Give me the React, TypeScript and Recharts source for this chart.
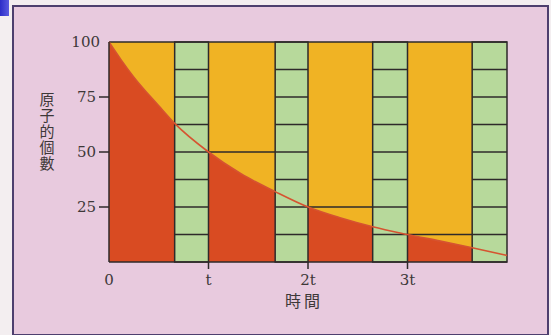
import React from 'react';
import {
  ComposedChart,
  Area,
  Line,
  XAxis,
  YAxis,
  CartesianGrid,
  ReferenceArea,
  ReferenceLine,
} from 'recharts';

// Decay curve (x in half-lives)
const timeUnits = [0, 0.12, 0.25, 0.5, 0.66, 1, 1.33, 1.67, 2, 2.33, 2.65, 3, 3.33, 3.65, 4];
const atomCounts = [100, 92, 84, 71, 63, 50, 40, 32, 25, 20, 16, 12.5, 9.5, 6.5, 3];

// Green striped columns before each half-life mark
const stripStart = [0.66, 1.67, 2.65, 3.65];
const stripEnd = [1, 2, 3, 4];
const stripRows = [12.5, 25, 37.5, 50, 62.5, 75, 87.5];

// Level lines drawn over the yellow part after each half-life
const halfLevels = [50, 25, 12.5];

const xTicks = [0, 1, 2, 3];
const xTickLabels = ['0', 't', '2t', '3t'];
const yTicks = [25, 50, 75, 100];

const yTitle = '原子的個數';
const xTitle = '時間';

const RED = '#d94b22';
const YELLOW = '#f0b324';
const GREEN = '#b7d99b';
const INK = '#2e2a2a';
const TEXT = '#3d3838';
const SERIF = '"DejaVu Serif", serif';
const CJK = '"Noto Sans CJK TC", sans-serif';

const data = timeUnits.map((t, i) => ({ t, n: atomCounts[i] }));

function YTick({ x, y, payload }: any) {
  const v = payload.value;
  return (
    <g>
      {v !== 100 && <line x1={x - 10} y1={y} x2={x} y2={y} stroke={INK} strokeWidth={1.5} />}
      <text
        x={v === 100 ? x - 9 : x - 13}
        y={y}
        dy="0.36em"
        textAnchor="end"
        fill={TEXT}
        fontSize={15}
        fontFamily={SERIF}
      >
        {v}
      </text>
    </g>
  );
}

function XTick({ x, y, payload }: any) {
  const v = payload.value;
  return (
    <g>
      {v > 0 && <line x1={x} y1={y} x2={x} y2={y + 7} stroke={INK} strokeWidth={1.5} />}
      <text x={x} y={y + 23} textAnchor="middle" fill={TEXT} fontSize={15} fontFamily={SERIF}>
        {xTickLabels[xTicks.indexOf(v)]}
      </text>
    </g>
  );
}

function YTitle({ viewBox }: any) {
  return (
    <text
      x={viewBox.x - 2}
      y={92}
      fill={TEXT}
      fontSize={15}
      fontFamily={CJK}
      style={{ writingMode: 'vertical-rl' }}
      letterSpacing={1}
    >
      {yTitle}
    </text>
  );
}

function XTitle({ viewBox }: any) {
  return (
    <text
      x={viewBox.x + viewBox.width / 2 - 4}
      y={viewBox.y + 45}
      textAnchor="middle"
      fill={TEXT}
      fontSize={16}
      fontFamily={CJK}
      letterSpacing={3}
    >
      {xTitle}
    </text>
  );
}

export default function App() {
  return (
    <div style={{ position: 'fixed', left: 0, top: 0, width: 551, height: 335, background: '#f3eef0', overflow: 'hidden' }}>
      <div
        style={{
          position: 'absolute',
          left: 0,
          top: 0,
          width: 9,
          height: 16,
          background: 'linear-gradient(90deg, #2c2cc8, #5a5ae0)',
        }}
      />
      <div
        style={{
          position: 'absolute',
          left: 12,
          top: 5,
          width: 533,
          height: 327,
          border: '2px solid #4d3f6e',
          background: '#e8cade',
        }}
      />
      <div style={{ position: 'absolute', left: 0, top: 0 }}>
        <ComposedChart width={551} height={335} data={data} margin={{ top: 42, right: 44, bottom: 43, left: 49 }}>
          <CartesianGrid fill={YELLOW} horizontal={false} vertical={false} />
          <XAxis
            dataKey="t"
            type="number"
            domain={[0, 4]}
            ticks={xTicks}
            tick={<XTick />}
            tickLine={false}
            tickSize={0}
            tickMargin={0}
            height={30}
            axisLine={{ stroke: INK, strokeWidth: 1.5 }}
            label={<XTitle />}
          />
          <YAxis
            type="number"
            domain={[0, 100]}
            ticks={yTicks}
            tick={<YTick />}
            tickLine={false}
            tickSize={0}
            tickMargin={0}
            width={60}
            axisLine={{ stroke: INK, strokeWidth: 1.5 }}
            label={<YTitle />}
          />
          <Area
            type="monotone"
            dataKey="n"
            fill={RED}
            fillOpacity={1}
            stroke="none"
            isAnimationActive={false}
          />
          {stripStart.map((s, i) => (
            <ReferenceArea
              key={'strip' + i}
              x1={s}
              x2={stripEnd[i]}
              y1={0}
              y2={100}
              fill={GREEN}
              fillOpacity={1}
              stroke={INK}
              strokeWidth={1.5}
              zIndex={110}
            />
          ))}
          {stripStart.map((s, i) =>
            stripRows.map((r) => (
              <ReferenceLine
                key={'row' + i + '-' + r}
                segment={[
                  { x: s, y: r },
                  { x: stripEnd[i], y: r },
                ]}
                stroke={INK}
                strokeWidth={1.5}
                zIndex={120}
              />
            ))
          )}
          {halfLevels.map((v, i) => (
            <ReferenceLine
              key={'half' + i}
              segment={[
                { x: stripEnd[i], y: v },
                { x: stripStart[i + 1], y: v },
              ]}
              stroke={INK}
              strokeWidth={1.5}
              zIndex={120}
            />
          ))}
          <ReferenceLine y={100} stroke={INK} strokeWidth={1.5} zIndex={120} />
          <Line
            type="monotone"
            dataKey="n"
            stroke="#d65330"
            strokeWidth={1.6}
            dot={false}
            isAnimationActive={false}
          />
        </ComposedChart>
      </div>
    </div>
  );
}
